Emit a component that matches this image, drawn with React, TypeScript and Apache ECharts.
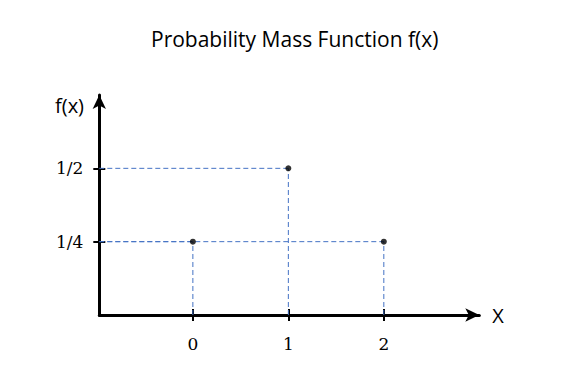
import React, { useEffect, useRef } from "react";
import * as echarts from "echarts";

const xValues = [0, 1, 2];
const probabilities = [0.25, 0.5, 0.25];
const yTickValues = [0.25, 0.5];
const yTickLabels = ["1/4", "1/2"];
const titleText = "Probability Mass Function f(x)";
const xMin = -0.98;
const xMax = 3;
const yMax = 0.75;

export default function App() {
  const ref = useRef<HTMLDivElement>(null);
  useEffect(() => {
    if (!ref.current) return;
    const chart = echarts.init(ref.current, null, { renderer: "svg" });
    const dashColor = "#4472C4";
    const dashStyle = { color: dashColor, width: 1, type: [5, 3] as any };
    const series: any[] = [];
    xValues.forEach((x, i) => {
      const p = probabilities[i];
      series.push({
        type: "line",
        data: [[xMin, p], [x, p]],
        symbol: "none",
        lineStyle: dashStyle,
        silent: true,
        z: 1,
      });
      series.push({
        type: "line",
        data: [[x, 0], [x, p]],
        symbol: "none",
        lineStyle: dashStyle,
        silent: true,
        z: 1,
      });
    });
    series.push({
      type: "scatter",
      data: xValues.map((x, i) => [x, probabilities[i]]),
      symbol: "circle",
      symbolSize: 6,
      itemStyle: { color: "#000" },
      z: 5,
    });
    const labelFont = "'DejaVu Serif', 'Liberation Serif', serif";
    const sansFont = "'Open Sans', sans-serif";
    const yLabel = (v: number) => {
      const idx = yTickValues.indexOf(v);
      return idx >= 0 ? yTickLabels[idx] : "";
    };
    const tickStyle = { color: "#000", width: 2 };
    chart.setOption({
      animation: false,
      title: {
        text: titleText,
        left: 138,
        top: 15,
        textStyle: {
          fontFamily: sansFont,
          fontWeight: "normal",
          fontSize: 21,
          color: "#000",
        },
      },
      grid: { left: 91.3, right: 95.7, top: 87, bottom: 71 },
      xAxis: [
        {
          type: "value",
          min: xMin,
          max: xMax,
          position: "bottom",
          splitLine: { show: false },
          axisLine: {
            onZero: false,
            lineStyle: { color: "#000", width: 3 },
            symbol: ["none", "arrow"],
            symbolSize: [10, 14],
          },
          axisTick: { show: true, customValues: xValues, length: 6, lineStyle: tickStyle },
          axisLabel: {
            customValues: xValues,
            margin: 20,
            fontFamily: labelFont,
            fontSize: 17,
            color: "#000",
          },
          name: "X",
          nameLocation: "end",
          nameGap: 13,
          nameTextStyle: { fontFamily: sansFont, fontSize: 20, color: "#000" },
        },
        {
          type: "value",
          min: xMin,
          max: xMax,
          position: "bottom",
          splitLine: { show: false },
          axisLine: { show: false, onZero: false },
          axisTick: { show: true, inside: true, customValues: xValues, length: 6, lineStyle: tickStyle },
          axisLabel: { show: false },
        },
      ],
      yAxis: [
        {
          type: "value",
          min: 0,
          max: yMax,
          position: "left",
          splitLine: { show: false },
          axisLine: {
            onZero: false,
            lineStyle: { color: "#000", width: 3 },
            symbol: ["none", "arrow"],
            symbolSize: [10, 14],
          },
          axisTick: { show: true, customValues: yTickValues, length: 6, lineStyle: tickStyle },
          axisLabel: {
            customValues: yTickValues,
            formatter: yLabel,
            margin: 16,
            fontFamily: labelFont,
            fontSize: 17,
            color: "#000",
          },
        },
        {
          type: "value",
          min: 0,
          max: yMax,
          position: "left",
          splitLine: { show: false },
          axisLine: { show: false, onZero: false },
          axisTick: { show: true, inside: true, customValues: yTickValues, length: 6, lineStyle: tickStyle },
          axisLabel: { show: false },
        },
      ],
      graphic: [
        {
          type: "text",
          left: 47,
          top: 87,
          style: {
            text: "f(x)",
            fontFamily: sansFont,
            fontSize: 20,
            fill: "#000",
          },
        },
      ],
      series,
    });
    return () => chart.dispose();
  }, []);
  return <div ref={ref} style={{ width: 567, height: 378 }} />;
}
